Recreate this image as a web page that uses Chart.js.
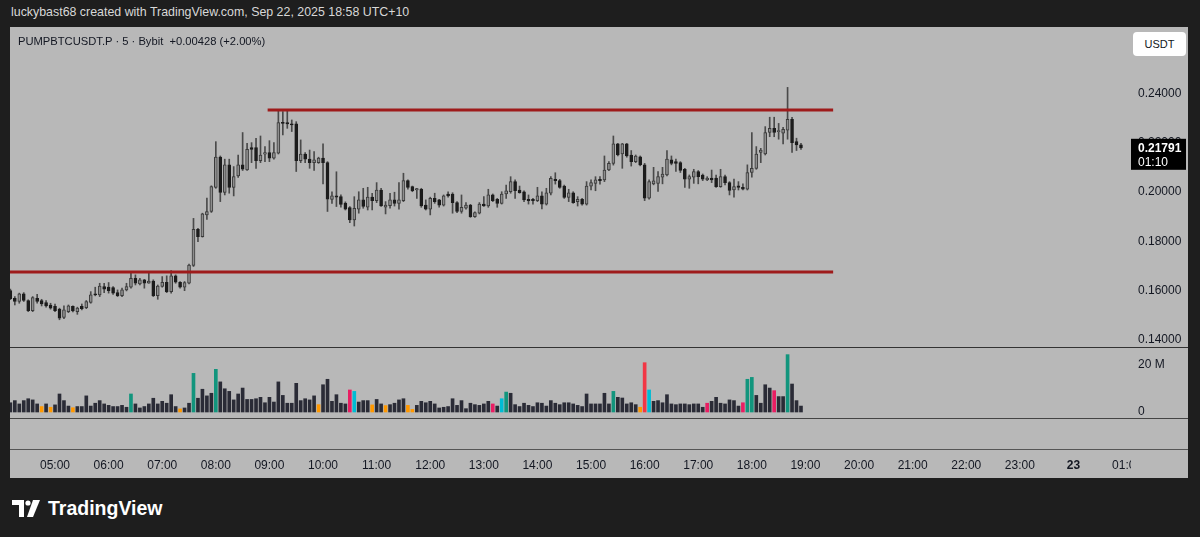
<!DOCTYPE html>
<html>
<head>
<meta charset="utf-8">
<title>PUMPBTCUSDT.P 5m</title>
<script src="https://cdn.jsdelivr.net/npm/chart.js@4.4.1/dist/chart.umd.min.js"></script>
<style>
  html, body { margin: 0; padding: 0; background: #1e1e1e; }
  body { width: 1200px; height: 537px; position: relative; overflow: hidden; font-family: "Liberation Sans", Arial, sans-serif; }
  #credit { position: absolute; left: 11px; top: 5px; color: #d8d8d8; font-size: 12.4px; }
  #panel { position: absolute; left: 10px; top: 27px; width: 1178px; height: 451px; background: #b8b8b8; }
  .sep { position: absolute; left: 10px; width: 1178px; height: 1px; background: #333; }
  #priceWrap { position: absolute; left: 10px; top: 27px; }
  #volWrap { position: absolute; left: 10px; top: 348px; }
  #symbol { position: absolute; left: 18px; top: 35px; font-size: 11.2px; color: #131722; }
  #usdt { position: absolute; left: 1133px; top: 32px; width: 53px; height: 24px; background: #fff; border-radius: 4px;
          font-size: 11px; color: #131722; text-align: center; line-height: 24px; }
  #axisMask { position: absolute; left: 1131px; top: 451px; width: 57px; height: 26px; background: #b8b8b8; }
  #brand { position: absolute; left: 12px; top: 497px; color: #fff; font-size: 19.5px; font-weight: bold; display: flex; align-items: center; }
  #brand svg { margin-right: 7px; }
</style>
</head>
<body>
<div id="credit">luckybast68 created with TradingView.com, Sep 22, 2025 18:58 UTC+10</div>
<div id="panel"></div>
<div id="priceWrap"><canvas id="priceChart" width="1178" height="320"></canvas></div>
<div id="volWrap"><canvas id="volChart" width="1178" height="130"></canvas></div>
<div class="sep" style="top:347px"></div>
<div class="sep" style="top:418px;background:#444"></div>
<div class="sep" style="top:449px;background:#555"></div>
<div id="axisMask"></div>
<div id="symbol">PUMPBTCUSDT.P · 5 · Bybit&nbsp; +0.00428 (+2.00%)</div>
<div id="usdt">USDT</div>
<div id="brand">
  <svg width="29" height="18" viewBox="0 0 29 18">
    <path d="M0 0H12V17H7V5H0Z" fill="#fff"/>
    <circle cx="16" cy="3" r="2.6" fill="#fff"/>
    <path d="M21 0H28L21 17H15Z" fill="#fff"/>
  </svg>TradingView</div>

<script>
// 5 minute bars, first bar opens 04:10 (minutes after midnight)
const firstBar = 250;
const barStep = 5;

const opens = [
  0.1600, 0.1569, 0.1556, 0.1587, 0.1560, 0.1519, 0.1569, 0.1560, 0.1552, 0.1542,
  0.1536, 0.1525, 0.1492, 0.1515, 0.1536, 0.1515, 0.1536, 0.1531, 0.1552, 0.1587,
  0.1583, 0.1617, 0.1614, 0.1612, 0.1592, 0.1580, 0.1603, 0.1614, 0.1650, 0.1627,
  0.1644, 0.1630, 0.1639, 0.1580, 0.1617, 0.1634, 0.1596, 0.1660, 0.1634, 0.1614,
  0.1630, 0.1702, 0.1849, 0.1819, 0.1907, 0.1921, 0.2019, 0.2141, 0.1998, 0.2110,
  0.2019, 0.2065, 0.2110, 0.2089, 0.2180, 0.2180, 0.2127, 0.2153, 0.2160, 0.2137,
  0.2157, 0.2281, 0.2281, 0.2276, 0.2276, 0.2127, 0.2154, 0.2133, 0.2119, 0.2119,
  0.2137, 0.2119, 0.1970, 0.1984, 0.1981, 0.1955, 0.1937, 0.1887, 0.1930, 0.1968,
  0.1938, 0.1979, 0.1965, 0.2008, 0.1938, 0.1945, 0.1968, 0.1954, 0.1965, 0.2046,
  0.2022, 0.2008, 0.2011, 0.1947, 0.1930, 0.1974, 0.1968, 0.1947, 0.1991, 0.1991,
  0.1957, 0.1921, 0.1934, 0.1947, 0.1900, 0.1914, 0.1951, 0.1943, 0.1988, 0.1970,
  0.1954, 0.1992, 0.2001, 0.2042, 0.2008, 0.2001, 0.1970, 0.1970, 0.1965, 0.1984,
  0.1951, 0.1995, 0.2051, 0.2046, 0.2024, 0.1978, 0.1997, 0.1961, 0.1970, 0.1951,
  0.2024, 0.2035, 0.2051, 0.2049, 0.2089, 0.2116, 0.2195, 0.2154, 0.2195, 0.2150,
  0.2123, 0.2143, 0.2110, 0.1975, 0.2033, 0.2035, 0.2060, 0.2069, 0.2130, 0.2123,
  0.2119, 0.2092, 0.2052, 0.2060, 0.2083, 0.2069, 0.2049, 0.2056, 0.2056, 0.2022,
  0.2062, 0.2038, 0.2008, 0.2025, 0.2019, 0.2011, 0.2079, 0.2096, 0.2160, 0.2154,
  0.2241, 0.2258, 0.2245, 0.2238, 0.2251, 0.2295, 0.2204, 0.2191
];
const highs = [
  0.1606, 0.1576, 0.1590, 0.1592, 0.1563, 0.1576, 0.1585, 0.1565, 0.1560, 0.1549,
  0.1546, 0.1529, 0.1538, 0.1542, 0.1538, 0.1533, 0.1546, 0.1560, 0.1596, 0.1614,
  0.1630, 0.1630, 0.1633, 0.1617, 0.1603, 0.1610, 0.1630, 0.1673, 0.1664, 0.1650,
  0.1646, 0.1673, 0.1644, 0.1623, 0.1657, 0.1660, 0.1681, 0.1664, 0.1637, 0.1637,
  0.1708, 0.1893, 0.1853, 0.1914, 0.1975, 0.2025, 0.2204, 0.2146, 0.2133, 0.2133,
  0.2103, 0.2150, 0.2241, 0.2197, 0.2200, 0.2218, 0.2227, 0.2184, 0.2208, 0.2200,
  0.2335, 0.2326, 0.2330, 0.2292, 0.2285, 0.2211, 0.2160, 0.2170, 0.2164, 0.2141,
  0.2195, 0.2123, 0.2001, 0.2082, 0.1988, 0.1960, 0.1941, 0.1981, 0.2001, 0.2015,
  0.2019, 0.1995, 0.2038, 0.2015, 0.1961, 0.1995, 0.1999, 0.2038, 0.2076, 0.2049,
  0.2024, 0.2015, 0.2015, 0.1968, 0.1979, 0.1995, 0.1970, 0.1988, 0.2001, 0.1997,
  0.1961, 0.1988, 0.1957, 0.1950, 0.1920, 0.1957, 0.1981, 0.2011, 0.1992, 0.1974,
  0.2001, 0.2028, 0.2062, 0.2049, 0.2024, 0.2005, 0.1988, 0.1974, 0.2019, 0.2001,
  0.2015, 0.2062, 0.2078, 0.2051, 0.2028, 0.2011, 0.2001, 0.1981, 0.1974, 0.2042,
  0.2049, 0.2062, 0.2062, 0.2146, 0.2123, 0.2227, 0.2197, 0.2197, 0.2197, 0.2168,
  0.2150, 0.2146, 0.2116, 0.2049, 0.2100, 0.2083, 0.2100, 0.2168, 0.2146, 0.2133,
  0.2123, 0.2096, 0.2069, 0.2092, 0.2087, 0.2073, 0.2062, 0.2089, 0.2069, 0.2092,
  0.2069, 0.2042, 0.2052, 0.2042, 0.2033, 0.2110, 0.2241, 0.2184, 0.2177, 0.2265,
  0.2303, 0.2303, 0.2278, 0.2262, 0.2424, 0.2303, 0.2218, 0.2197
];
const lows = [
  0.1563, 0.1542, 0.1549, 0.1556, 0.1515, 0.1515, 0.1549, 0.1538, 0.1533, 0.1525,
  0.1515, 0.1482, 0.1486, 0.1511, 0.1514, 0.1504, 0.1522, 0.1527, 0.1549, 0.1579,
  0.1576, 0.1592, 0.1590, 0.1585, 0.1576, 0.1576, 0.1599, 0.1610, 0.1623, 0.1623,
  0.1610, 0.1630, 0.1576, 0.1565, 0.1614, 0.1592, 0.1590, 0.1630, 0.1610, 0.1600,
  0.1627, 0.1698, 0.1799, 0.1817, 0.1889, 0.1917, 0.2015, 0.1961, 0.1988, 0.1995,
  0.1984, 0.2059, 0.2087, 0.2087, 0.2119, 0.2096, 0.2119, 0.2123, 0.2123, 0.2133,
  0.2154, 0.2231, 0.2258, 0.2245, 0.2083, 0.2119, 0.2119, 0.2096, 0.2087, 0.2116,
  0.2033, 0.1921, 0.1954, 0.1941, 0.1938, 0.1927, 0.1876, 0.1862, 0.1914, 0.1934,
  0.1927, 0.1927, 0.1957, 0.1941, 0.1911, 0.1934, 0.1943, 0.1930, 0.1961, 0.2011,
  0.2001, 0.1974, 0.1938, 0.1927, 0.1907, 0.1954, 0.1938, 0.1943, 0.1979, 0.1914,
  0.1916, 0.1914, 0.1930, 0.1897, 0.1897, 0.1911, 0.1941, 0.1938, 0.1961, 0.1938,
  0.1951, 0.1974, 0.1995, 0.1974, 0.1995, 0.1961, 0.1951, 0.1951, 0.1961, 0.1931,
  0.1947, 0.1988, 0.2032, 0.2015, 0.1974, 0.1961, 0.1954, 0.1943, 0.1947, 0.1947,
  0.2008, 0.2005, 0.2032, 0.2042, 0.2086, 0.2109, 0.2146, 0.2096, 0.2141, 0.2105,
  0.2119, 0.2106, 0.1965, 0.1971, 0.2029, 0.2002, 0.2033, 0.2065, 0.2110, 0.2083,
  0.2079, 0.2019, 0.2015, 0.2035, 0.2033, 0.2046, 0.2046, 0.2038, 0.2019, 0.2019,
  0.2029, 0.1988, 0.1979, 0.2008, 0.2008, 0.2008, 0.2060, 0.2092, 0.2119, 0.2150,
  0.2224, 0.2224, 0.2214, 0.2195, 0.2214, 0.2160, 0.2168, 0.2173
];
const closes = [
  0.1568, 0.1556, 0.1587, 0.1560, 0.1519, 0.1572, 0.1556, 0.1546, 0.1538, 0.1529,
  0.1519, 0.1488, 0.1522, 0.1538, 0.1518, 0.1529, 0.1527, 0.1556, 0.1583, 0.1583,
  0.1619, 0.1606, 0.1600, 0.1590, 0.1580, 0.1603, 0.1617, 0.1650, 0.1630, 0.1644,
  0.1630, 0.1639, 0.1580, 0.1619, 0.1634, 0.1596, 0.1660, 0.1634, 0.1614, 0.1633,
  0.1704, 0.1849, 0.1819, 0.1911, 0.1921, 0.2022, 0.2141, 0.1998, 0.2110, 0.2019,
  0.2062, 0.2110, 0.2092, 0.2173, 0.2173, 0.2127, 0.2150, 0.2160, 0.2137, 0.2160,
  0.2281, 0.2278, 0.2276, 0.2272, 0.2127, 0.2154, 0.2133, 0.2119, 0.2130, 0.2137,
  0.2119, 0.1971, 0.1984, 0.1979, 0.1950, 0.1930, 0.1887, 0.1934, 0.1968, 0.1941,
  0.1979, 0.1965, 0.2008, 0.1943, 0.1947, 0.1968, 0.1954, 0.1968, 0.2046, 0.2019,
  0.2005, 0.2014, 0.1943, 0.1930, 0.1974, 0.1961, 0.1947, 0.1984, 0.1984, 0.1957,
  0.1921, 0.1938, 0.1947, 0.1900, 0.1916, 0.1951, 0.1943, 0.1988, 0.1965, 0.1954,
  0.1992, 0.2005, 0.2042, 0.2005, 0.1997, 0.1968, 0.1965, 0.1965, 0.1984, 0.1951,
  0.1997, 0.2055, 0.2046, 0.2019, 0.1978, 0.1997, 0.1957, 0.1970, 0.1951, 0.2024,
  0.2038, 0.2049, 0.2046, 0.2089, 0.2116, 0.2195, 0.2150, 0.2195, 0.2146, 0.2123,
  0.2146, 0.2110, 0.1975, 0.2042, 0.2045, 0.2062, 0.2073, 0.2133, 0.2116, 0.2116,
  0.2087, 0.2052, 0.2062, 0.2083, 0.2062, 0.2052, 0.2056, 0.2049, 0.2022, 0.2062,
  0.2038, 0.2006, 0.2022, 0.2019, 0.2011, 0.2079, 0.2096, 0.2154, 0.2170, 0.2241,
  0.2258, 0.2241, 0.2249, 0.2254, 0.2295, 0.2200, 0.2191, 0.21791
];
// volume in millions
const volumes = [
  3.9, 4.8, 3.4, 4.8, 5.6, 5.1, 3.4, 2.3, 3.4, 2.0,
  3.0, 7.6, 4.8, 2.5, 1.8, 2.3, 2.3, 6.8, 2.5, 3.7,
  4.8, 3.4, 2.8, 2.3, 2.3, 2.8, 2.0, 7.6, 3.4, 1.7,
  2.3, 3.4, 5.8, 3.4, 4.5, 3.7, 7.3, 2.3, 1.3, 1.7,
  3.7, 16.3, 5.8, 9.6, 6.8, 7.9, 18.0, 12.7, 9.8, 8.7,
  5.1, 7.6, 10.1, 5.3, 5.3, 5.6, 6.2, 3.9, 6.2, 4.2,
  12.7, 7.0, 3.7, 3.7, 12.1, 4.8, 5.6, 5.1, 6.8, 3.1,
  11.5, 13.8, 4.5, 7.3, 3.7, 3.4, 9.3, 8.7, 4.2, 4.8,
  4.8, 3.0, 5.3, 3.4, 2.7, 3.1, 3.7, 5.1, 5.6, 2.8,
  1.1, 2.8, 4.5, 3.9, 4.5, 3.4, 1.7, 2.0, 2.3, 5.6,
  2.8, 4.8, 1.4, 3.7, 3.1, 2.8, 3.4, 4.5, 3.4, 2.5,
  5.6, 8.4, 7.9, 3.1, 2.3, 3.7, 2.8, 2.3, 3.9, 3.7,
  2.5, 4.8, 3.7, 3.1, 3.9, 3.9, 3.4, 2.8, 2.3, 7.6,
  3.4, 3.4, 3.4, 7.9, 3.4, 8.7, 6.2, 5.9, 3.4, 3.9,
  3.1, 2.0, 20.8, 9.3, 4.5, 4.8, 3.9, 7.3, 3.4, 3.1,
  3.4, 3.4, 3.1, 3.4, 3.4, 2.0, 3.7, 4.5, 6.2, 3.7,
  3.4, 5.1, 4.8, 2.5, 3.9, 13.8, 14.6, 7.0, 3.7, 11.5,
  10.1, 9.0, 6.5, 6.5, 24.2, 11.8, 4.8, 2.5
];
// bars the volume study highlights
const volTeal = [27, 41, 46, 111, 135, 165, 166, 174];
const volOrange = [7, 9, 14, 38, 69, 81, 84, 89, 90, 141];
const volPink = [76, 108, 156, 164, 171];
const volCyan = [77, 110, 143];
const volRed = [142];

// drawn horizontal levels (price, from minute, to minute)
const levelPrices = [0.2332, 0.1676];
const levelFrom = [538, 249];
const levelTo = [1171, 1171];

const volTicks = [0, 20];
const countdown = '01:10';
const dayLabel = '23';

const xMin = 249.6, xMax = 1503.3;

Chart.defaults.font.family = '"Liberation Sans", Arial, sans-serif';
Chart.defaults.font.size = 12;
Chart.defaults.color = '#131722';
Chart.defaults.animation = false;

const times = opens.map((_, i) => firstBar + i * barStep);
const isUp = closes.map((c, i) => c >= opens[i]);

function hourLabel(m) {
  const h = Math.floor(m / 60) % 24;
  if (h === 0) return dayLabel;
  return String(h).padStart(2, '0') + ':00';
}

const lastPriceTag = {
  id: 'lastPriceTag',
  afterDraw(chart) {
    const last = closes[closes.length - 1];
    const y = chart.scales.y.getPixelForValue(last);
    const x0 = chart.chartArea.right + 1;
    const ctx = chart.ctx;
    ctx.save();
    ctx.fillStyle = '#000';
    ctx.fillRect(x0, y - 9, 55, 31);
    ctx.fillStyle = '#fff';
    ctx.textBaseline = 'middle';
    ctx.font = 'bold 12px "Liberation Sans", Arial, sans-serif';
    ctx.fillText(last.toFixed(5), x0 + 7, y + 1);
    ctx.font = '12px "Liberation Sans", Arial, sans-serif';
    ctx.fillText(countdown, x0 + 7, y + 15);
    ctx.restore();
  }
};

const levelSets = levelPrices.map((p, k) => ({
  type: 'line',
  data: [{ x: levelFrom[k], y: p }, { x: levelTo[k], y: p }],
  borderColor: '#9e1b1b',
  borderWidth: 3,
  pointRadius: 0,
  order: 0
}));

new Chart(document.getElementById('priceChart'), {
  type: 'bar',
  data: {
    datasets: [
      ...levelSets,
      {
        data: times.map((t, i) => ({ x: t, y: [opens[i], closes[i]] })),
        backgroundColor: isUp.map(u => u ? '#8e8e8e' : '#1c1c1c'),
        borderColor: isUp.map(u => u ? '#3a3a3a' : '#1c1c1c'),
        borderWidth: 1,
        borderSkipped: false,
        barThickness: 3,
        minBarLength: 1,
        grouped: false,
        order: 1
      },
      {
        data: times.map((t, i) => ({ x: t, y: [lows[i], highs[i]] })),
        backgroundColor: '#4a4a4a',
        barThickness: 1,
        grouped: false,
        order: 2
      }
    ]
  },
  options: {
    responsive: false,
    layout: { padding: 0 },
    plugins: { legend: { display: false }, tooltip: { enabled: false } },
    scales: {
      x: { type: 'linear', min: xMin, max: xMax, offset: false, display: false },
      y: {
        position: 'right',
        min: 0.13716,
        max: 0.26688,
        grid: { display: false, drawTicks: false },
        border: { display: false },
        ticks: { stepSize: 0.02, includeBounds: false, padding: 8, callback: v => v.toFixed(5) },
        afterFit: s => { s.width = 58; s.paddingTop = 0; s.paddingBottom = 0; }
      }
    }
  },
  plugins: [lastPriceTag]
});

function volColor(i) {
  if (volTeal.includes(i)) return '#12957d';
  if (volOrange.includes(i)) return '#ff9800';
  if (volPink.includes(i)) return '#e91e63';
  if (volCyan.includes(i)) return '#00bcd4';
  if (volRed.includes(i)) return '#f23645';
  return '#2a2b36';
}

new Chart(document.getElementById('volChart'), {
  type: 'bar',
  data: {
    datasets: [{
      data: times.map((t, i) => ({ x: t, y: volumes[i] })),
      backgroundColor: volumes.map((_, i) => volColor(i)),
      barThickness: 3,
      grouped: false
    }]
  },
  options: {
    responsive: false,
    layout: { padding: 0 },
    plugins: { legend: { display: false }, tooltip: { enabled: false } },
    scales: {
      x: {
        type: 'linear', min: xMin, max: xMax, offset: false,
        grid: { display: false, drawTicks: false },
        border: { display: false },
        ticks: {
          stepSize: 60, includeBounds: false, padding: 10, maxRotation: 0, autoSkip: false,
          callback: v => hourLabel(v),
          font: c => ({ size: 12, weight: (c.tick && c.tick.value % 1440 === 0) ? 'bold' : 'normal' })
        },
        afterFit: s => { s.height = 30; s.paddingLeft = 0; s.paddingRight = 0; }
      },
      y: {
        position: 'right',
        min: -15.19,
        max: 27.0,
        grid: { display: false, drawTicks: false },
        border: { display: false },
        ticks: { padding: 8, callback: v => v === 0 ? '0' : v + ' M' },
        afterBuildTicks: s => { s.ticks = volTicks.map(v => ({ value: v })); },
        afterFit: s => { s.width = 58; s.paddingTop = 0; s.paddingBottom = 0; }
      }
    }
  }
});
</script>
</body>
</html>
